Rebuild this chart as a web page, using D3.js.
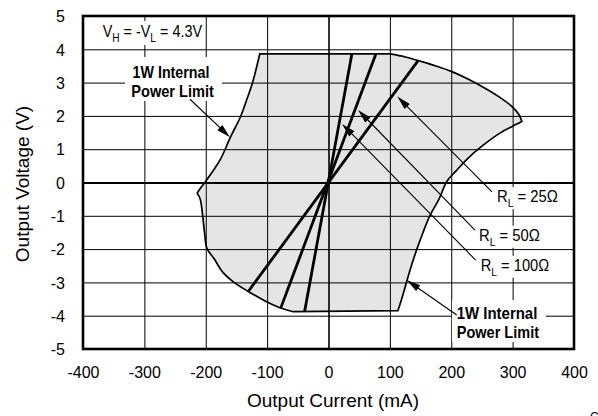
<!DOCTYPE html>
<html><head><meta charset="utf-8">
<script src="https://cdn.jsdelivr.net/npm/d3@7"></script>
<style>
body{margin:0;background:#fff}
svg{display:block}
text{font-family:"Liberation Sans",Arial,Helvetica,sans-serif}
</style>
</head><body>
<svg id="c" width="598" height="416"></svg>
<script>
// ---- data ----
const xTicks = [-400,-300,-200,-100,0,100,200,300,400];
const yTicks = [-5,-4,-3,-2,-1,0,1,2,3,4,5];
// safe operating boundary (output current mA, output voltage V), clockwise
const boundaryCurrent = [-112,100,125,150,175,201,228,255,278,299,310,315,
  298,280,252,225,208,193,180,165,154,144,135,127,120,113,
  -57,-78,-104,-130,-154,-172,-186,-198,-202,-205,-209,-214,
  -207,-200,-188,-176,-159,-143,-133,-124,-118];
const boundaryVoltage = [3.86,3.86,3.77,3.64,3.50,3.33,3.10,2.83,2.57,2.28,2.05,1.83,
  1.67,1.49,1.12,0.69,0.35,0.04,-0.5,-1.0,-1.5,-2.0,-2.5,-3.0,-3.45,-3.85,
  -3.88,-3.77,-3.55,-3.28,-3.0,-2.7,-2.3,-1.98,-1.5,-1.0,-0.5,-0.32,
  -0.13,0.04,0.35,0.7,1.39,1.99,2.5,2.98,3.4];
const boundaryCorners = [0,1,11,25,26,37];
// load lines
const loadNames = ["25Ω","50Ω","100Ω"];
const loadLowCurrent = [-131,-78,-39];
const loadLowVoltage = [-3.28,-3.78,-3.88];
const loadHighCurrent = [146,77,38];
const loadHighVoltage = [3.66,3.85,3.85];
const noteLines = ["1W Internal","Power Limit"];

// ---- layout ----
const W=598,H=416;
const x=d3.scaleLinear().domain([-400,400]).range([83,574]);
const y=d3.scaleLinear().domain([-5,5]).range([349,16]);
const FONT='"Liberation Sans",Arial,Helvetica,sans-serif';
const svg=d3.select("#c");
svg.append("rect").attr("width",W).attr("height",H).attr("fill","#fff");

// boundary path: smooth segments between sharp corners
const pts=boundaryCurrent.map((c,i)=>[c,boundaryVoltage[i]]);
const seg=d3.line().x(d=>x(d[0])).y(d=>y(d[1])).curve(d3.curveCatmullRom.alpha(0.5));
let pathD="";
boundaryCorners.forEach((c,k)=>{
  const next=k+1<boundaryCorners.length?boundaryCorners[k+1]:pts.length;
  const s=pts.slice(c,next+1);
  if(next===pts.length) s.push(pts[0]);
  const d=seg(s);
  pathD+= k===0 ? d : "L"+d.slice(1);
});
pathD+="Z";
svg.append("path").attr("d",pathD).attr("fill","#e5e5e5");

// grid via axes
const gx=svg.append("g").attr("transform",`translate(0,${y(-5)})`)
  .call(d3.axisBottom(x).tickValues(xTicks).tickSize(-(y(-5)-y(5))).tickPadding(18).tickFormat(d=>String(d)));
gx.select(".domain").remove();
gx.attr("font-size",16).attr("font-family",FONT);
gx.selectAll(".tick line").attr("stroke","#000").attr("stroke-width",d=>d===0?1.6:1);
gx.selectAll(".tick text").attr("fill","#000");

const gy=svg.append("g").attr("transform",`translate(${x(-400)},0)`)
  .call(d3.axisLeft(y).tickValues(yTicks).tickSize(-(x(400)-x(-400))).tickPadding(18).tickFormat(d=>String(d)));
gy.select(".domain").remove();
gy.attr("font-size",16).attr("font-family",FONT);
gy.selectAll(".tick line").attr("stroke","#000").attr("stroke-width",d=>d===0?2.2:1);
gy.selectAll(".tick text").attr("fill","#000").attr("dy","0.36em");

// boundary outline
svg.append("path").attr("d",pathD).attr("fill","none").attr("stroke","#000").attr("stroke-width",1.7).attr("stroke-linejoin","miter");

// load lines
loadNames.forEach((n,i)=>{
  svg.append("line")
    .attr("x1",x(loadLowCurrent[i])).attr("y1",y(loadLowVoltage[i]))
    .attr("x2",x(loadHighCurrent[i])).attr("y2",y(loadHighVoltage[i]))
    .attr("stroke","#000").attr("stroke-width",2.8);
});

// annotation helpers
const boxes=svg.append("g");
const texts=svg.append("g");
function box(i1,v1,i2,v2){
  boxes.append("rect").attr("x",x(i1)).attr("y",y(v1)).attr("width",x(i2)-x(i1)).attr("height",y(v2)-y(v1)).attr("fill","#fff");
}
function label(parts,i,v,size,weight,anchor,targetW){
  const g=texts.append("g");
  const t=g.append("text").attr("font-size",size).attr("font-weight",weight).attr("text-anchor",anchor).attr("fill","#000");
  let shift=0;
  parts.forEach(p=>{
    const target=p.sub?size*0.29:0;
    const ts=t.append("tspan").text(p.t).attr("dy",target-shift);
    if(p.sub) ts.attr("font-size",size*0.7);
    shift=target;
  });
  const bw=t.node().getBBox().width;
  const s=targetW/bw;
  g.attr("transform",`translate(${x(i)},${y(v)}) scale(${s},1)`);
  return g;
}
function arrow(i1,v1,i2,v2){
  const x1=x(i1),y1=y(v1),x2=x(i2),y2=y(v2);
  const dx=x2-x1,dy=y2-y1,L=Math.hypot(dx,dy),ux=dx/L,uy=dy/L;
  const hl=14,hw=3.6;
  const bx=x2-ux*hl,by=y2-uy*hl;
  texts.append("line").attr("x1",x1).attr("y1",y1).attr("x2",bx+ux*2).attr("y2",by+uy*2).attr("stroke","#000").attr("stroke-width",1.1);
  texts.append("path").attr("d",`M${x2},${y2}L${bx-uy*hw},${by+ux*hw}L${bx+uy*hw},${by-ux*hw}Z`).attr("fill","#000");
}

// V_H = -V_L = 4.3V
box(-372,4.85,-204.5,4.13);
label([{t:"V"},{t:"H",sub:1},{t:" = -V"},{t:"L",sub:1},{t:" = 4.3V"}],-368,4.38,17,"normal","start",100);

// left power-limit note
box(-331.6,3.77,-173.5,2.45);
label([{t:noteLines[0]}],-256.6,3.14,17,"bold","middle",77);
label([{t:noteLines[1]}],-254,2.56,17,"bold","middle",83);
arrow(-225.7,2.50,-160.5,1.36);

// bottom-right power-limit note
box(201.2,-3.53,354.4,-4.79);
label([{t:noteLines[0]}],208.9,-4.11,17,"bold","start",80.7);
label([{t:noteLines[1]}],208.9,-4.66,17,"bold","start",82.7);
arrow(208.9,-3.98,127.4,-2.93);

// R_L labels
const rlPos=[[274.5,-0.59,61],[245.2,-1.75,61],[248,-2.65,68.6]];
rlPos.forEach((p,i)=>{
  const px=x(p[0]),py=y(p[1]);
  boxes.append("rect").attr("x",px-3).attr("y",py-15).attr("width",p[2]+6).attr("height",22).attr("fill","#fff");
  label([{t:"R"},{t:"L",sub:1},{t:" = "+loadNames[i]}],p[0],p[1],16.5,"normal","start",p[2]);
});
arrow(266.4,-0.28,112.1,2.58);
arrow(238.7,-1.43,48.1,2.18);
arrow(239.8,-2.33,22,1.76);

// frame
svg.append("rect").attr("x",x(-400)).attr("y",y(5)).attr("width",x(400)-x(-400)).attr("height",y(-5)-y(5))
  .attr("fill","none").attr("stroke","#000").attr("stroke-width",2.6);

// axis titles
svg.append("text").attr("x",333).attr("y",406.5).attr("text-anchor","middle").attr("font-size",19).attr("fill","#000").text("Output Current (mA)");
svg.append("text").attr("transform","translate(28.5,184) rotate(-90)").attr("text-anchor","middle").attr("font-size",19).attr("fill","#000").text("Output Voltage (V)");
svg.append("text").attr("x",590).attr("y",421).attr("font-size",12).attr("fill","#000").text("C");
</script>
</body></html>
